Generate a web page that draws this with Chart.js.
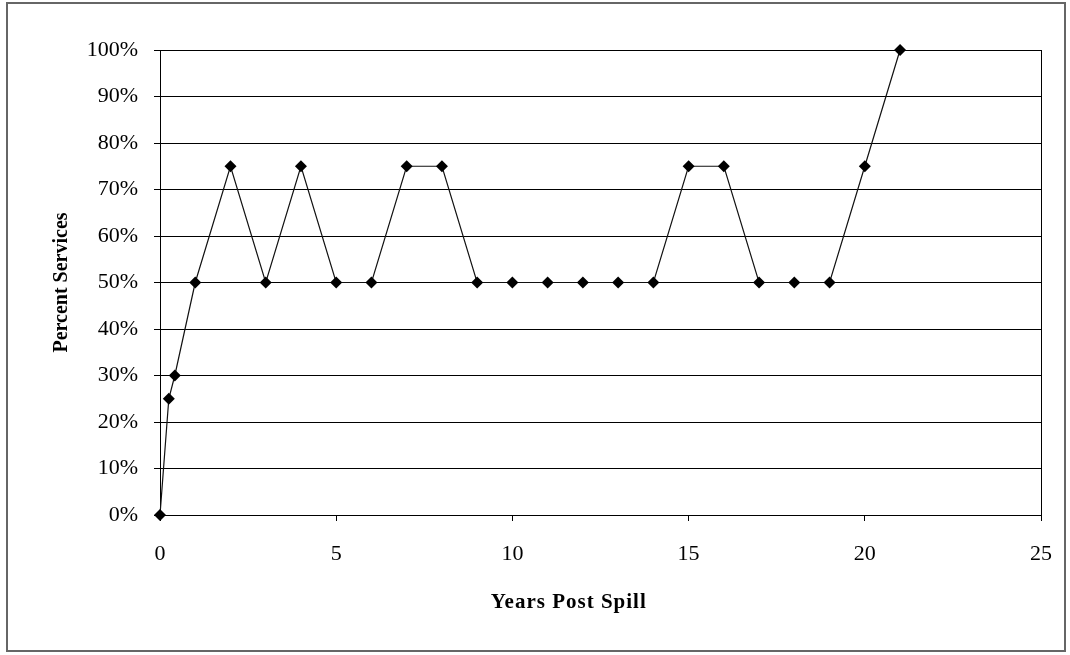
<!DOCTYPE html>
<html>
<head>
<meta charset="utf-8">
<script src="https://cdn.jsdelivr.net/npm/chart.js@4"></script>
<style>
  html, body { margin: 0; padding: 0; background: #fff; }
  #wrap { width: 1070px; height: 655px; position: relative; }
</style>
</head>
<body>
<div id="wrap"><canvas id="spillChart"></canvas></div>
<script>
// values
const years = [0, 0.25, 0.42, 1, 2, 3, 4, 5, 6, 7, 8, 9, 10, 11, 12, 13, 14, 15, 16, 17, 18, 19, 20, 21];
const percentServices = [0, 25, 30, 50, 75, 50, 75, 50, 50, 75, 75, 50, 50, 50, 50, 50, 50, 75, 75, 50, 50, 50, 75, 100];
const xTicks = [0, 5, 10, 15, 20, 25];
const yTicks = [0, 10, 20, 30, 40, 50, 60, 70, 80, 90, 100];

const points = years.map((x, i) => ({ x: x, y: percentServices[i] }));

const serif = "'Liberation Serif', 'Times New Roman', serif";

// outer frame, right edge of the plot box, x axis title (sits left of centre in the original)
const framePlugin = {
  id: "frame",
  afterDraw(chart) {
    const ctx = chart.ctx;
    const a = chart.chartArea;
    ctx.save();
    ctx.strokeStyle = "#000";
    ctx.lineWidth = 1;
    ctx.beginPath();
    ctx.moveTo(Math.round(a.right) + 0.5, a.top);
    ctx.lineTo(Math.round(a.right) + 0.5, a.bottom);
    ctx.stroke();
    ctx.strokeStyle = "#666";
    ctx.lineWidth = 2;
    ctx.strokeRect(7, 3, 1058, 648);

    ctx.fillStyle = "#000";
    ctx.font = "bold 21px " + serif;
    ctx.letterSpacing = "1px";
    ctx.textAlign = "center";
    ctx.textBaseline = "middle";
    ctx.fillText("Years Post Spill", a.left + (a.right - a.left) * 0.464, 603);
    ctx.restore();
  }
};

new Chart(document.getElementById("spillChart"), {
  type: "scatter",
  data: {
    datasets: [{
      data: points,
      showLine: true,
      clip: false,
      borderColor: "#111",
      borderWidth: 1.2,
      backgroundColor: "#000",
      pointStyle: "rectRot",
      pointRadius: 6,
      pointBorderWidth: 0,
      tension: 0
    }]
  },
  options: {
    responsive: true,
    maintainAspectRatio: false,
    animation: false,
    layout: { padding: { left: 46, top: 50, right: 29, bottom: 37 } },
    plugins: {
      legend: { display: false },
      tooltip: { enabled: false }
    },
    scales: {
      x: {
        type: "linear",
        min: 0,
        max: 25,
        afterBuildTicks: s => { s.ticks = xTicks.map(v => ({ value: v })); },
        afterFit: s => {
          s.height = 103;
          s.paddingLeft = 0;
          s.paddingRight = 0;
        },
        border: { display: true, color: "#000", width: 1 },
        grid: { drawOnChartArea: false, drawTicks: true, tickLength: 6, color: "#000" },
        ticks: { color: "#000", font: { family: serif, size: 22 }, padding: 20, maxRotation: 0 }
      },
      y: {
        min: 0,
        max: 100,
        afterBuildTicks: s => { s.ticks = yTicks.map(v => ({ value: v })); },
        afterFit: s => { s.width = 114; },
        border: { display: true, color: "#000", width: 1 },
        grid: { color: "#000", lineWidth: 1, drawTicks: true, tickLength: 6 },
        ticks: {
          color: "#000",
          font: { family: serif, size: 22 },
          padding: 16,
          callback: v => v + "%"
        },
        title: {
          display: true,
          text: "Percent Services",
          color: "#000",
          font: { family: serif, size: 20, weight: "bold" }
        }
      }
    }
  },
  plugins: [framePlugin]
});
</script>
</body>
</html>
